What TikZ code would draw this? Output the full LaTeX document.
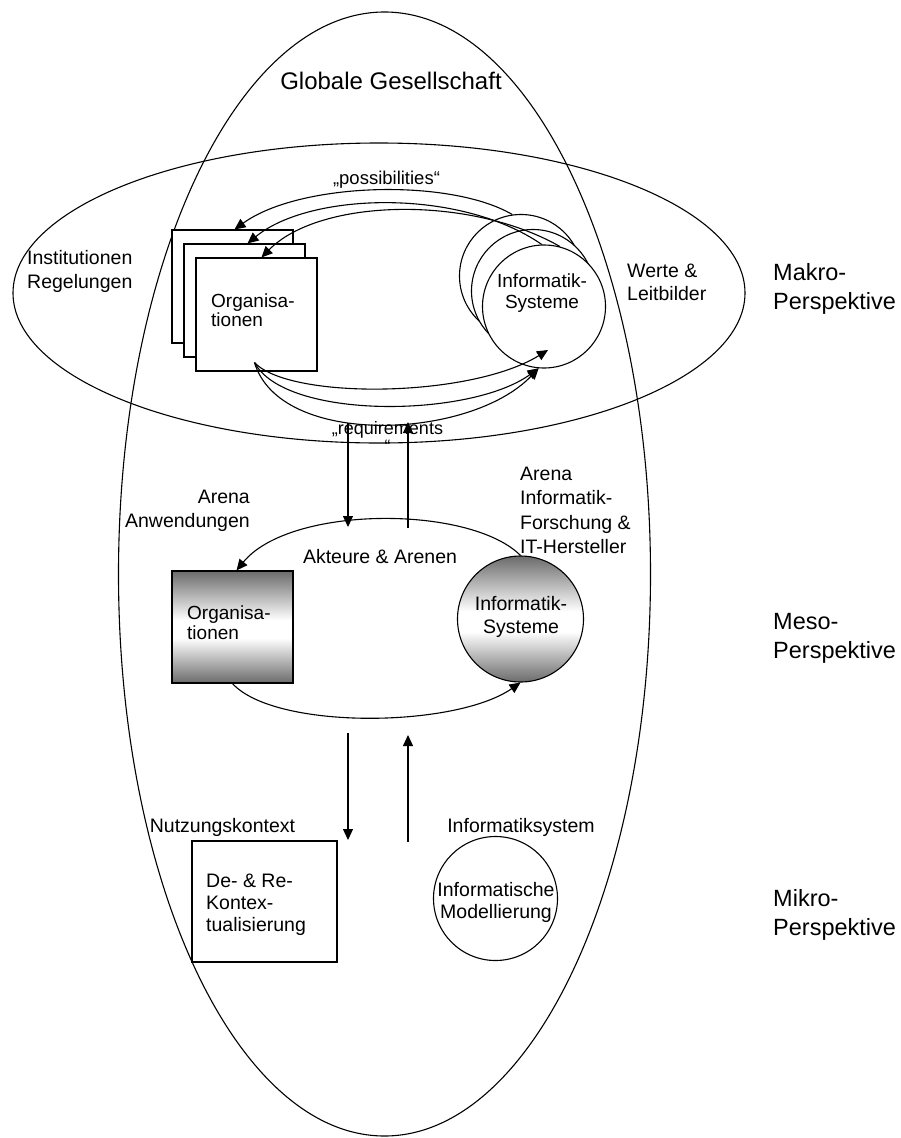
\documentclass[tikz,border=0pt]{standalone}
\usepackage{fontspec}
\setmainfont{Liberation Sans}
\usetikzlibrary{arrows.meta,shapes.geometric}
\definecolor{shadegray}{gray}{0.42}
% grey at top and bottom, white band a little below the middle
\pgfdeclareverticalshading{mesoband}{100bp}{color(0bp)=(shadegray); color(25bp)=(shadegray); color(45bp)=(white); color(53bp)=(white); color(75bp)=(shadegray); color(100bp)=(shadegray)}

\begin{document}
\begin{tikzpicture}[x=1pt, y=-1pt,
  outline/.style={draw, line width=1.1pt},
  conn/.style={line width=1.1pt, -{Triangle[length=11pt,width=10pt]}},
  lbl/.style={inner sep=0pt, font=\fontsize{19.5}{23.5}\selectfont},
  persp/.style={inner sep=0pt, align=left, anchor=west, font=\fontsize{23.5}{29}\selectfont},
  orgbox/.style={outline, fill=white, rectangle, minimum width=121pt, minimum height=113pt, inner sep=0pt},
  sysdisc/.style={outline, fill=white, circle, minimum size=123pt, inner sep=0pt},
]
\useasboundingbox (0,0) rectangle (900,1138);

% society and macro frame
\node[outline, ellipse, minimum width=532pt, minimum height=1124pt, inner sep=0pt] (society) at (384.5,574) {};
\node[outline, ellipse, minimum width=732pt, minimum height=300pt, inner sep=0pt] (macro) at (379,293) {};
\node[inner sep=0pt, font=\fontsize{24}{28}\selectfont] (societylbl) at (391,81) {Globale Gesellschaft};

% macro level: stacked organisations and systems
\node[orgbox] (orgC) at (232.5,286.5) {};
\node[orgbox] (orgB) at (244.5,300.5) {};
\node[orgbox] (orgA) at (256.5,314.5) {};
\node[sysdisc] (sysC) at (521,276) {};
\node[sysdisc] (sysB) at (533,291) {};
\node[sysdisc] (sysA) at (544,306.5) {};
\node[lbl, align=left, anchor=west, font=\fontsize{19}{19}\selectfont] (orgAtxt) at (211,310) {Organisa-\\tionen};
\node[lbl, align=center, font=\fontsize{19}{21}\selectfont] (sysAtxt) at (542,293) {Informatik-\\Systeme};

% possibilities: systems back to organisations
\draw[conn] (sysC.98) .. controls (450,178) and (300,182) .. ([xshift=2pt]orgC.north);
\draw[conn] (sysA.92) .. controls (460,188) and (310,192) .. ([xshift=3pt]orgB.north);
\draw[conn] (sysA.75) .. controls (470,195) and (320,198) .. ([xshift=5pt]orgA.north);
\node[inner sep=0pt, font=\fontsize{18.5}{22}\selectfont] (posslbl) at (386.5,180) {„possibilities“};

% requirements: organisations to systems
\coordinate (reqS) at ([xshift=-2pt,yshift=9pt]orgA.south);
\coordinate (reqT) at ([xshift=4pt,yshift=-43.5pt]sysA.center);
\draw[conn] (reqS) .. controls (290,400) and (470,398) .. (reqT);
\draw[conn] (reqS) .. controls (285,420) and (470,418) .. (sysA.265);
\draw[conn] (reqS) .. controls (280,448) and (470,440) .. (sysA.265);
\node[inner sep=0pt, align=center, font=\fontsize{18}{18}\selectfont] (reqlbl) at (387.5,436.5) {„requirements\\“};

% macro side labels
\node[lbl, align=left, anchor=west, font=\fontsize{19.5}{24}\selectfont] (instlbl) at (27,271) {Institutionen\\Regelungen};
\node[lbl, align=left, anchor=west, font=\fontsize{19.5}{23}\selectfont] (wertelbl) at (627,282) {Werte \&\\Leitbilder};
\node[persp] (makrolbl) at (773,289) {Makro-\\Perspektive};

% links between macro and meso level
\coordinate (macDnTop) at (348,423);
\coordinate (macDnEnd) at (348,527);
\coordinate (macUpBot) at (408,528);
\coordinate (macUpTop) at (408,422);
\draw[conn] (macDnTop) -- (macDnEnd);
\draw[conn] (macUpBot) -- (macUpTop);

% meso level: actors and arenas
\node[outline, rectangle, shade, shading=mesoband, minimum width=121pt, minimum height=112pt, inner sep=0pt] (orgM) at (232.5,627) {};
\node[outline, circle, shade, shading=mesoband, minimum size=126pt, inner sep=0pt] (sysM) at (520.5,619) {};
\node[lbl, align=left, anchor=west, font=\fontsize{19}{20}\selectfont] (orgMtxt) at (187,623) {Organisa-\\tionen};
\node[lbl, align=center, font=\fontsize{19.5}{23}\selectfont] (sysMtxt) at (521,617) {Informatik-\\Systeme};
\draw[conn] (sysM.north) .. controls (470,505) and (290,505) .. ([xshift=4pt]orgM.north);
\draw[conn] (orgM.south) .. controls (275,730) and (455,728) .. (sysM.south);
\node[lbl] (arenenlbl) at (380,557) {Akteure \& Arenen};
\node[lbl, align=right, anchor=east, font=\fontsize{19.5}{24.5}\selectfont] (anwlbl) at (250,511) {Arena\\Anwendungen};
\node[lbl, align=left, anchor=west, font=\fontsize{19.5}{24.3}\selectfont] (forschlbl) at (520,510.5) {Arena\\Informatik-\\Forschung \&\\IT-Hersteller};
\node[persp] (mesolbl) at (773,638) {Meso-\\Perspektive};

% links between meso and micro level
\coordinate (micDnTop) at (348,733);
\coordinate (micDnEnd) at (348,840);
\coordinate (micUpBot) at (408,842);
\coordinate (micUpTop) at (408,735);
\draw[conn] (micDnTop) -- (micDnEnd);
\draw[conn] (micUpBot) -- (micUpTop);

% micro level
\node[outline, rectangle, minimum width=145pt, minimum height=121pt, inner sep=0pt] (ctxbox) at (264.5,901.5) {};
\node[outline, circle, minimum size=124pt, inner sep=0pt] (modcirc) at (495.5,898.5) {};
\node[lbl] (nutzlbl) at (222.5,827) {Nutzungskontext};
\node[lbl] (syslbl) at (521,827) {Informatiksystem};
\node[lbl, align=left, anchor=west, font=\fontsize{19.5}{22}\selectfont] (ctxtxt) at (206,905) {De- \& Re-\\Kontex-\\tualisierung};
\node[lbl, align=center, font=\fontsize{19.5}{22}\selectfont] (modtxt) at (496,902) {Informatische\\Modellierung};
\node[persp] (mikrolbl) at (773,914.5) {Mikro-\\Perspektive};
\end{tikzpicture}
\end{document}
